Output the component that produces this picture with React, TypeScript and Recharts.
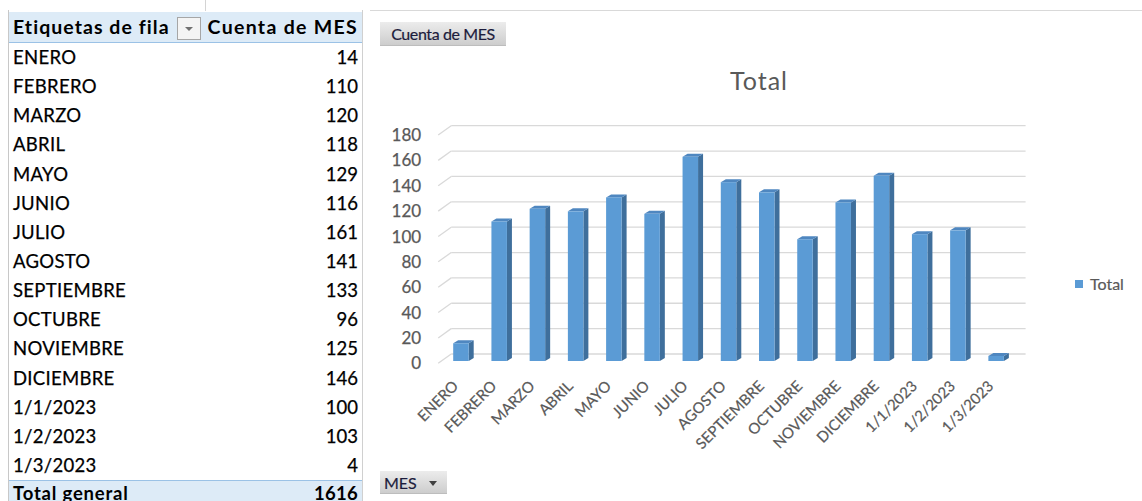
import React from 'react';
import { BarChart, Bar, XAxis, YAxis, CartesianGrid } from 'recharts';

const categories = ['ENERO', 'FEBRERO', 'MARZO', 'ABRIL', 'MAYO', 'JUNIO', 'JULIO', 'AGOSTO', 'SEPTIEMBRE', 'OCTUBRE', 'NOVIEMBRE', 'DICIEMBRE', '1/1/2023', '1/2/2023', '1/3/2023'];
const values = [14, 110, 120, 118, 129, 116, 161, 141, 133, 96, 125, 146, 100, 103, 4];
const yTicks = [0, 20, 40, 60, 80, 100, 120, 140, 160, 180];
const seriesName = 'Total';
const tableHeader = ['Etiquetas de fila', 'Cuenta de MES'];
const totalLabel = 'Total general';
const totalValue = 1616;

const data = categories.map((c, i) => ({ name: c, value: values[i] }));

const FONT = 'Lato, "Noto Sans", sans-serif';
const AXIS_GRAY = '#595959';

const Bar3D = (props: any) => {
  const { x, y, width, height } = props;
  const dx = 5;
  const dy = 3;
  return (
    <g>
      <polygon
        points={`${x + width},${y} ${x + width + dx},${y - dy} ${x + width + dx},${y + height - dy} ${x + width},${y + height}`}
        fill="#3f6f9c"
      />
      <polygon
        points={`${x},${y} ${x + dx},${y - dy} ${x + width + dx},${y - dy} ${x + width},${y}`}
        fill="#4f87c0"
      />
      <rect x={x} y={y} width={width} height={height} fill="#5b9bd5" />
    </g>
  );
};

const gridLine = (p: any) => {
  const { x1, x2, y1, index } = p;
  return (
    <g key={`g-${index}`}>
      <line x1={x1 - 4} y1={y1 + 2.3} x2={x1 + 9} y2={y1 - 7} stroke="#d9d9d9" strokeWidth={1.3} />
      <line x1={x1 + 9} y1={y1 - 7} x2={x2 + 10} y2={y1 - 7} stroke="#d9d9d9" strokeWidth={1.3} />
    </g>
  );
};

const YTick = (p: any) => (
  <text x={p.x} y={p.y + 2.3} dy="0.36em" textAnchor="end" fill={AXIS_GRAY} fontSize={17} fontFamily={FONT} stroke={AXIS_GRAY} strokeWidth={0.25}>
    {p.payload.value}
  </text>
);

const XTick = (p: any) => {
  const ex = p.x - 2;
  const ey = p.y + 26;
  return (
    <text x={ex} y={ey} textAnchor="end" fill={AXIS_GRAY} fontSize={15} fontFamily={FONT} stroke={AXIS_GRAY} strokeWidth={0.2} transform={`rotate(-45, ${ex}, ${ey})`}>
      {p.payload.value}
    </text>
  );
};

const abs = (s: React.CSSProperties): React.CSSProperties => ({ position: 'absolute', ...s });

const regular: React.CSSProperties = { fontSize: 18.5, color: '#000', letterSpacing: 0.3, WebkitTextStroke: '0.25px #000', whiteSpace: 'nowrap' };
const bold: React.CSSProperties = { fontSize: 19.5, fontWeight: 700, color: '#000', letterSpacing: 1.05, whiteSpace: 'nowrap' };

export default function App() {
  const rowTop = 43;
  const rowH = 29.14;
  return (
    <div style={{ position: 'absolute', left: 0, top: 0, width: 1142, height: 501, background: '#fff', overflow: 'hidden', fontFamily: FONT }}>
      {/* Table */}
      <div style={abs({ left: 205, top: 0, width: 1, height: 11, background: '#d4d4d4' })} />
      <div style={abs({ left: 8, top: 10, width: 1, height: 491, background: '#c8c8c8' })} />
      <div style={abs({ left: 362, top: 10, width: 1, height: 491, background: '#d0d0d0' })} />
      <div style={abs({ left: 9, top: 12, width: 353, height: 30, background: '#ddebf7' })} />
      <div style={abs({ left: 9, top: 42, width: 353, height: 1, background: '#9bc2e6' })} />
      <div style={abs({ left: 13, top: 12, height: 30, lineHeight: '30px', ...bold })}>{tableHeader[0]}</div>
      <div style={abs({ left: 177, top: 17, width: 24, height: 23, background: '#f4f4f4', border: '1px solid #a6a6a6', boxSizing: 'border-box' })}>
        <div style={abs({ left: 7, top: 9, width: 0, height: 0, borderLeft: '4px solid transparent', borderRight: '4px solid transparent', borderTop: '4px solid #707070' })} />
      </div>
      <div style={abs({ right: 1142 - 358, top: 12, height: 30, lineHeight: '30px', ...bold, letterSpacing: 1.3 })}>{tableHeader[1]}</div>
      {categories.map((c, i) => (
        <React.Fragment key={c}>
          <div style={abs({ left: 13, top: rowTop + i * rowH, height: rowH, lineHeight: `${rowH}px`, ...regular })}>{c}</div>
          <div style={abs({ right: 1142 - 358, top: rowTop + i * rowH, height: rowH, lineHeight: `${rowH}px`, ...regular, letterSpacing: 0 })}>{values[i]}</div>
        </React.Fragment>
      ))}
      <div style={abs({ left: 9, top: 480, width: 353, height: 1, background: '#9bc2e6' })} />
      <div style={abs({ left: 9, top: 481, width: 353, height: 20, background: '#ddebf7' })} />
      <div style={abs({ left: 13, top: rowTop + 15 * rowH - 1, height: rowH, lineHeight: `${rowH}px`, ...bold, fontSize: 18.5, letterSpacing: 0.8 })}>{totalLabel}</div>
      <div style={abs({ right: 1142 - 358, top: rowTop + 15 * rowH - 1, height: rowH, lineHeight: `${rowH}px`, ...bold, fontSize: 18.5, letterSpacing: 0.3 })}>{totalValue}</div>

      {/* Chart frame */}
      <div style={abs({ left: 370, top: 10, width: 772, height: 1, background: '#d9d9d9' })} />
      <div style={abs({ left: 380, top: 22, width: 126, height: 24, background: 'linear-gradient(#ececec, #cdcdcd)', borderBottom: '1px solid #bdbdbd', boxSizing: 'border-box', fontSize: 16, lineHeight: '24px', textAlign: 'center', color: '#1c1c3c', letterSpacing: -0.4, WebkitTextStroke: '0.2px #1c1c3c', whiteSpace: 'nowrap' })}>Cuenta de MES</div>
      <div style={abs({ left: 380, top: 471, width: 67, height: 23, background: 'linear-gradient(#ececec, #cdcdcd)', borderBottom: '1px solid #bdbdbd', boxSizing: 'border-box', fontSize: 16, lineHeight: '23px', color: '#1c1c3c' })}>
        <span style={abs({ left: 4, top: 0, WebkitTextStroke: '0.2px #1c1c3c' })}>MES</span>
        <div style={abs({ left: 49, top: 10, width: 0, height: 0, borderLeft: '4.5px solid transparent', borderRight: '4.5px solid transparent', borderTop: '5px solid #404040' })} />
      </div>
      <div style={abs({ left: 659, top: 63, width: 200, textAlign: 'center', fontSize: 25, lineHeight: '34px', color: AXIS_GRAY, letterSpacing: 1 })}>{seriesName}</div>

      <div style={abs({ left: 370, top: 0 })}>
        <BarChart
          width={772}
          height={501}
          data={data}
          margin={{ top: 132.7, right: 126.4, bottom: 110, left: 12.2 }}
          barCategoryGap={0}
        >
          <CartesianGrid vertical={false} horizontal={gridLine} />
          <YAxis
            type="number"
            domain={[0, 180]}
            ticks={yTicks}
            width={60}
            axisLine={false}
            tickLine={false}
            tickSize={0}
            tickMargin={21}
            tick={<YTick />}
            interval={0}
          />
          <XAxis
            dataKey="name"
            height={30}
            axisLine={false}
            tickLine={false}
            tickSize={0}
            tickMargin={0}
            tick={<XTick />}
            interval={0}
          />
          <Bar dataKey="value" name={seriesName} barSize={15.5} shape={<Bar3D />} isAnimationActive={false} />
        </BarChart>
      </div>

      {/* Legend */}
      <div style={abs({ left: 1075, top: 280, width: 8, height: 8, background: '#5b9bd5' })} />
      <div style={abs({ left: 1090, top: 273, fontSize: 16, lineHeight: '22px', color: AXIS_GRAY, WebkitTextStroke: '0.2px #595959' })}>{seriesName}</div>
    </div>
  );
}
